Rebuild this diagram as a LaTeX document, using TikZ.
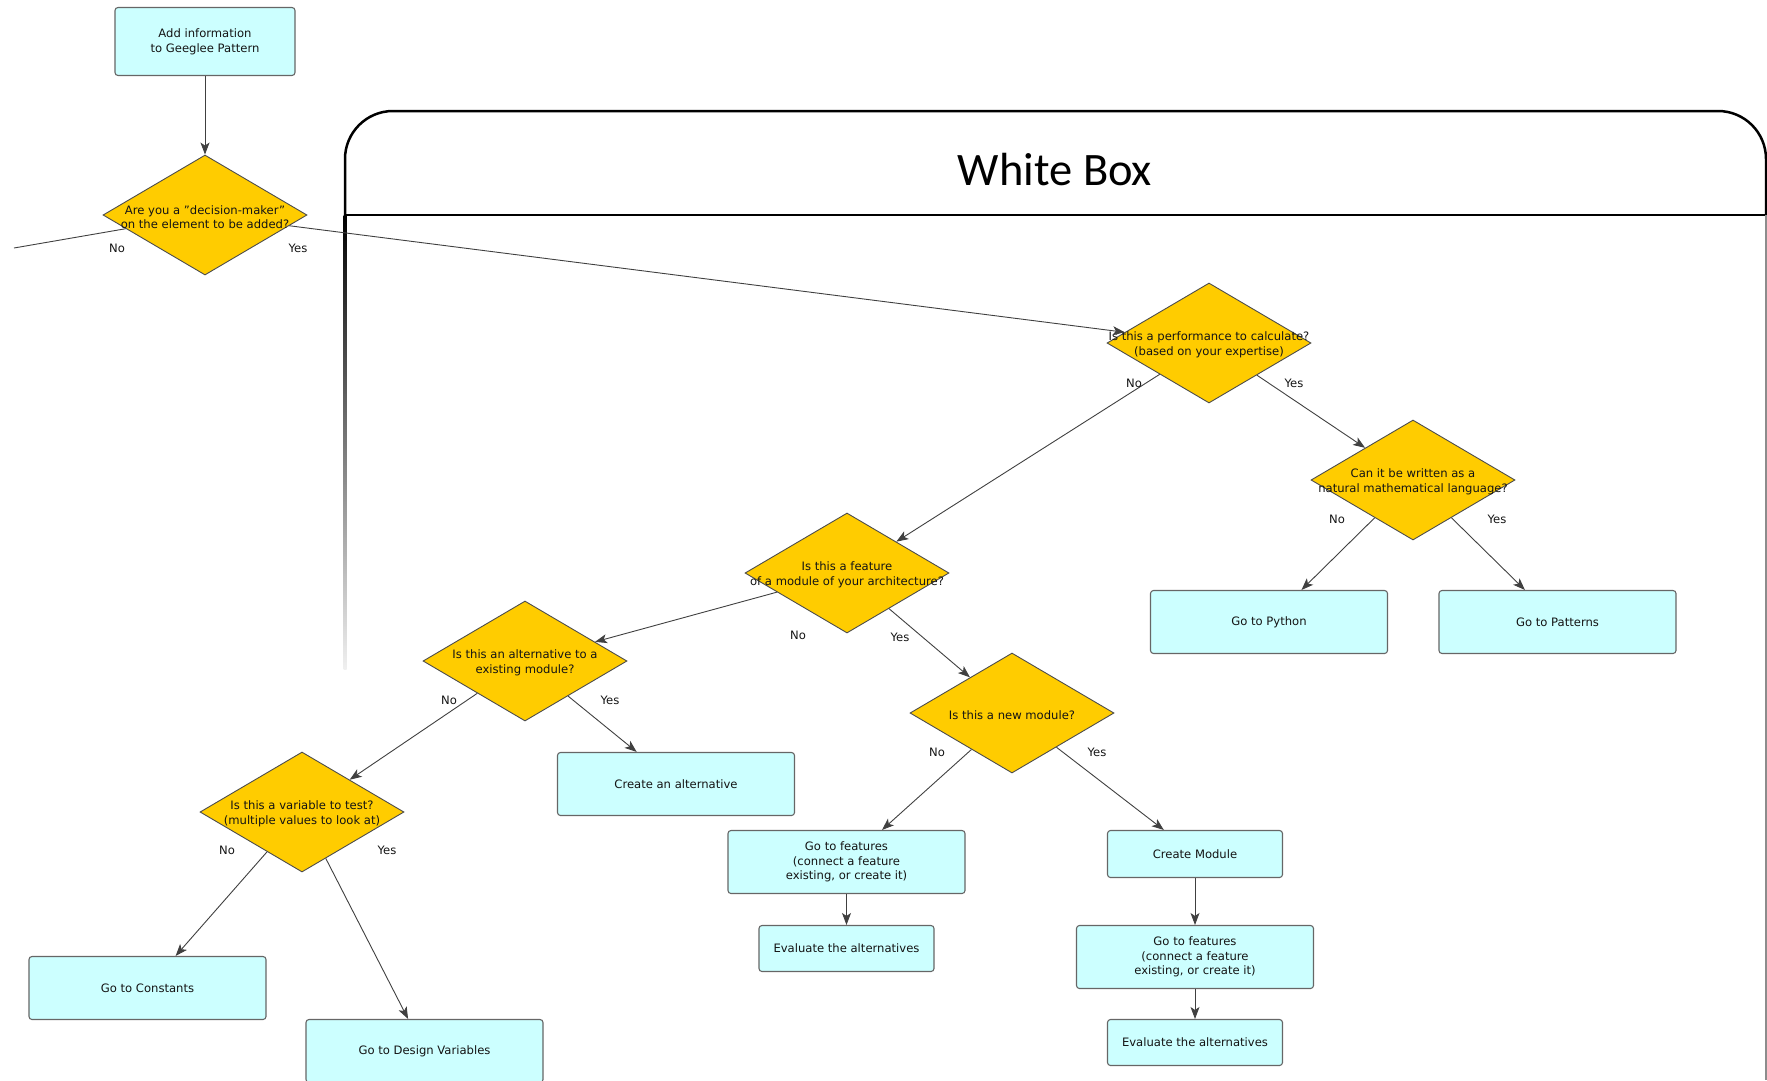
\documentclass[tikz,border=0pt]{standalone}
\usepackage{fontspec}
\setmainfont{DejaVu Sans}
\newfontfamily\titlefont{Carlito}
\usetikzlibrary{shapes.geometric,arrows.meta}
\definecolor{decgold}{RGB}{255,204,0}
\definecolor{actcyan}{RGB}{204,255,255}
\definecolor{inkgray}{RGB}{20,20,20}
\begin{document}
\begin{tikzpicture}[x=1pt,y=-1pt,
  every node/.style={font=\fontsize{11.6}{14.6}\selectfont, text=inkgray},
  dec/.style={diamond, draw=black!70, fill=decgold, line width=0.9pt,
    minimum width=204pt, minimum height=120pt, inner sep=0pt},
  dtext/.style={align=center, inner sep=0pt, yshift=-2pt},
  act/.style={rectangle, rounded corners=3pt, draw=black!60, fill=actcyan,
    line width=1.1pt, minimum width=237pt, minimum height=63pt,
    inner sep=0pt, align=center},
  actsm/.style={act, minimum width=175pt, minimum height=46pt},
  flow/.style={draw=black!75, line width=0.9pt,
    -{Stealth[length=12pt,width=9pt,inset=3pt]}},
  plainline/.style={draw=black!75, line width=0.9pt},
  ans/.style={inner sep=0pt}
]
\useasboundingbox (0,0) rectangle (1767,1080);

% --- White Box swimlane frame ---
\draw[line width=2.5pt, rounded corners=48pt] (345,216) -- (345,111) -- (1766,111) -- (1766,216);
\draw[line width=2.5pt] (345,215) -- (1766,215);
\draw[black!45, line width=1.5pt] (1766,215) -- (1766,1080);
\shade[top color=black, bottom color=black!6] (343.5,215) rectangle (346.5,669);
\node[font=\titlefont\fontsize{46.5}{50}\selectfont, text=black, anchor=base] (title) at (1055,185) {White Box};

% --- nodes ---
\node[act, minimum width=180pt, minimum height=68pt] (add) at (205,41.5) {Add information\\to Geeglee Pattern};

\node[dec, label={[dtext]center:{Are you a "decision-maker"\\on the element to be added?}}] (maker) at (205,215) {};
\node[dec, label={[dtext]center:{Is this a performance to calculate?\\(based on your expertise)}}] (perf) at (1209,343) {};
\node[dec, label={[dtext]center:{Can it be written as a\\natural mathematical language?}}] (natural) at (1413,480) {};
\node[dec, label={[dtext]center:{Is this a feature\\of a module of your architecture?}}] (feature) at (847,573) {};
\node[dec, label={[dtext]center:{Is this an alternative to a\\existing module?}}] (alt) at (525,661) {};
\node[dec, label={[dtext]center:{Is this a new module?}}] (newmod) at (1012,713) {};
\node[dec, label={[dtext]center:{Is this a variable to test?\\(multiple values to look at)}}] (variable) at (302,812) {};

\node[act] (python) at (1269,622) {Go to Python};
\node[act] (patterns) at (1557.5,622) {Go to Patterns};
\node[act] (createalt) at (676,784) {Create an alternative};
\node[act] (feat1) at (846.5,862) {Go to features\\(connect a feature\\existing, or create it)};
\node[actsm] (eval1) at (846.5,948.5) {Evaluate the alternatives};
\node[actsm, minimum height=47pt] (createmod) at (1195,854) {Create Module};
\node[act] (feat2) at (1195,957) {Go to features\\(connect a feature\\existing, or create it)};
\node[actsm] (eval2) at (1195,1042.5) {Evaluate the alternatives};
\node[act] (constants) at (147.5,988) {Go to Constants};
\node[act] (designvars) at (424.5,1051) {Go to Design Variables};

\coordinate (noexit) at (14,248);

% --- connectors ---
\draw[flow] (add) -- (maker);
\draw[plainline] (maker) -- (noexit);
\draw[flow] (maker) -- (perf);
\draw[flow] (perf) -- (feature);
\draw[flow] (perf) -- (natural);
\draw[flow] (natural) -- (python);
\draw[flow] (natural) -- (patterns);
\draw[flow] (feature) -- (alt);
\draw[flow] (feature) -- (newmod);
\draw[flow] (alt) -- (variable);
\draw[flow] (alt) -- (createalt);
\draw[flow] (variable) -- (constants);
\draw[flow] (variable) -- (designvars);
\draw[flow] (newmod) -- (feat1);
\draw[flow] (newmod) -- (createmod);
\draw[flow] (feat1) -- (eval1);
\draw[flow] (createmod) -- (feat2);
\draw[flow] (feat2) -- (eval2);

% --- answer labels ---
\node[ans] (makerno) at (117,248) {No};
\node[ans] (makeryes) at (298,248) {Yes};
\node[ans] (perfno) at (1134,383) {No};
\node[ans] (perfyes) at (1294,383) {Yes};
\node[ans] (natno) at (1337,519) {No};
\node[ans] (natyes) at (1497,519) {Yes};
\node[ans] (featno) at (798,635) {No};
\node[ans] (featyes) at (900,637) {Yes};
\node[ans] (altno) at (449,700) {No};
\node[ans] (altyes) at (610,700) {Yes};
\node[ans] (newno) at (937,752) {No};
\node[ans] (newyes) at (1097,752) {Yes};
\node[ans] (varno) at (227,850) {No};
\node[ans] (varyes) at (387,850) {Yes};
\end{tikzpicture}
\end{document}
